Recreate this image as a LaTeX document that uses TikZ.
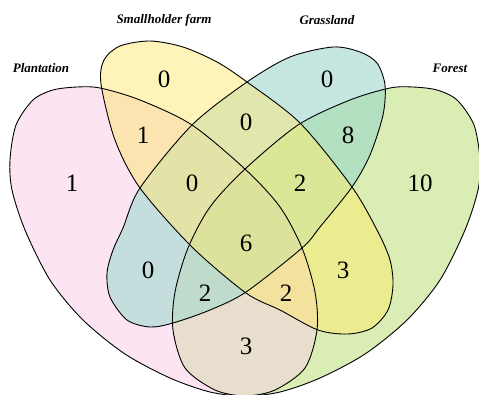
\documentclass[tikz,border=0pt]{standalone}
\usepackage{fontspec}
\setmainfont{Liberation Serif}
\definecolor{cA}{HTML}{FDE4F2}
\definecolor{cB}{HTML}{FEF3B8}
\definecolor{cC}{HTML}{C6E6E1}
\definecolor{cD}{HTML}{D9EDB4}
\definecolor{cAB}{HTML}{FCE4B0}
\definecolor{cAC}{HTML}{C4DEDD}
\definecolor{cAD}{HTML}{E8DECD}
\definecolor{cBC}{HTML}{E1E7AC}
\definecolor{cBD}{HTML}{EAEC8F}
\definecolor{cCD}{HTML}{B3E0C0}
\definecolor{cABC}{HTML}{E3E3A8}
\definecolor{cABD}{HTML}{F2E29E}
\definecolor{cACD}{HTML}{BEDBCB}
\definecolor{cBCD}{HTML}{D9E797}
\definecolor{cABCD}{HTML}{DCE29C}
\begin{document}
\begin{tikzpicture}[x=1pt,y=-1pt,
  setlabel/.style={font=\fontsize{13}{15}\selectfont\bfseries\itshape},
  count/.style={font=\fontsize{25}{28}\selectfont},
  outline/.style={draw=black,line width=0.9pt}]
\useasboundingbox (0,0) rectangle (479,394);
% set outlines (Plantation, Smallholder farm, Grassland, Forest)
\def\PA{plot[smooth cycle] coordinates {(77,87) (100,88) (140,100) (192,125) (246,170) (280,207) (302,248) (315,292) (317,330) (305,368) (275,390) (245,396) (210,392) (170,378) (125,354) (83,320) (50,280) (25,230) (12,190) (10,160) (16,125) (33,100) (53,90)}}
\def\PB{plot[smooth cycle] coordinates {(101,84) (104,60) (120,46) (150,41) (183,47) (217,62) (247,82) (300,123) (352,187) (378,232) (390,260) (393,285) (388,310) (372,328) (348,334) (318,330) (280,310) (246,293) (192,247) (140,188) (115,140)}}
\def\PC{plot[smooth cycle] coordinates {(333,47) (360,52) (377,63) (385,85) (383,115) (370,155) (352,187) (320,227) (302,248) (246,292) (210,310) (173,323) (150,327) (127,320) (110,297) (107,273) (113,250) (123,228) (140,188) (192,125) (247,82) (290,57)}}
\def\PD{plot[smooth cycle] coordinates {(413,87) (390,88) (350,100) (298,125) (244,170) (210,207) (188,248) (175,292) (173,330) (185,368) (215,390) (245,396) (280,392) (320,378) (365,354) (407,320) (440,280) (465,230) (478,190) (480,160) (474,125) (457,100) (437,90)}}
% single sets
\fill[cA] \PA;
\fill[cB] \PB;
\fill[cC] \PC;
\fill[cD] \PD;
% pairwise overlaps
\begin{scope}\clip \PA; \fill[cAB] \PB; \end{scope}
\begin{scope}\clip \PA; \fill[cAC] \PC; \end{scope}
\begin{scope}\clip \PA; \fill[cAD] \PD; \end{scope}
\begin{scope}\clip \PB; \fill[cBC] \PC; \end{scope}
\begin{scope}\clip \PB; \fill[cBD] \PD; \end{scope}
\begin{scope}\clip \PC; \fill[cCD] \PD; \end{scope}
% triple overlaps
\begin{scope}\clip \PA; \clip \PB; \fill[cABC] \PC; \end{scope}
\begin{scope}\clip \PA; \clip \PB; \fill[cABD] \PD; \end{scope}
\begin{scope}\clip \PA; \clip \PC; \fill[cACD] \PD; \end{scope}
\begin{scope}\clip \PB; \clip \PC; \fill[cBCD] \PD; \end{scope}
% all four
\begin{scope}\clip \PA; \clip \PB; \clip \PC; \fill[cABCD] \PD; \end{scope}
% outlines
\draw[outline] \PA;
\draw[outline] \PB;
\draw[outline] \PC;
\draw[outline] \PD;
% set names
\node[setlabel] (lA) at (41,68) {Plantation};
\node[setlabel] (lB) at (164,20) {Smallholder farm};
\node[setlabel] (lC) at (327,20) {Grassland};
\node[setlabel] (lD) at (450,68) {Forest};
% region counts
\node[count] (nA) at (72,183) {1};
\node[count] (nB) at (164,79) {0};
\node[count] (nC) at (327,79) {0};
\node[count] (nD) at (420,183) {10};
\node[count] (nAB) at (143,135) {1};
\node[count] (nBC) at (246,122) {0};
\node[count] (nCD) at (348,135) {8};
\node[count] (nABC) at (192,183) {0};
\node[count] (nBCD) at (300,183) {2};
\node[count] (nABCD) at (246,243) {6};
\node[count] (nAC) at (148,270) {0};
\node[count] (nBD) at (343,270) {3};
\node[count] (nACD) at (205,293) {2};
\node[count] (nABD) at (286,293) {2};
\node[count] (nAD) at (246,346) {3};
\end{tikzpicture}
\end{document}
